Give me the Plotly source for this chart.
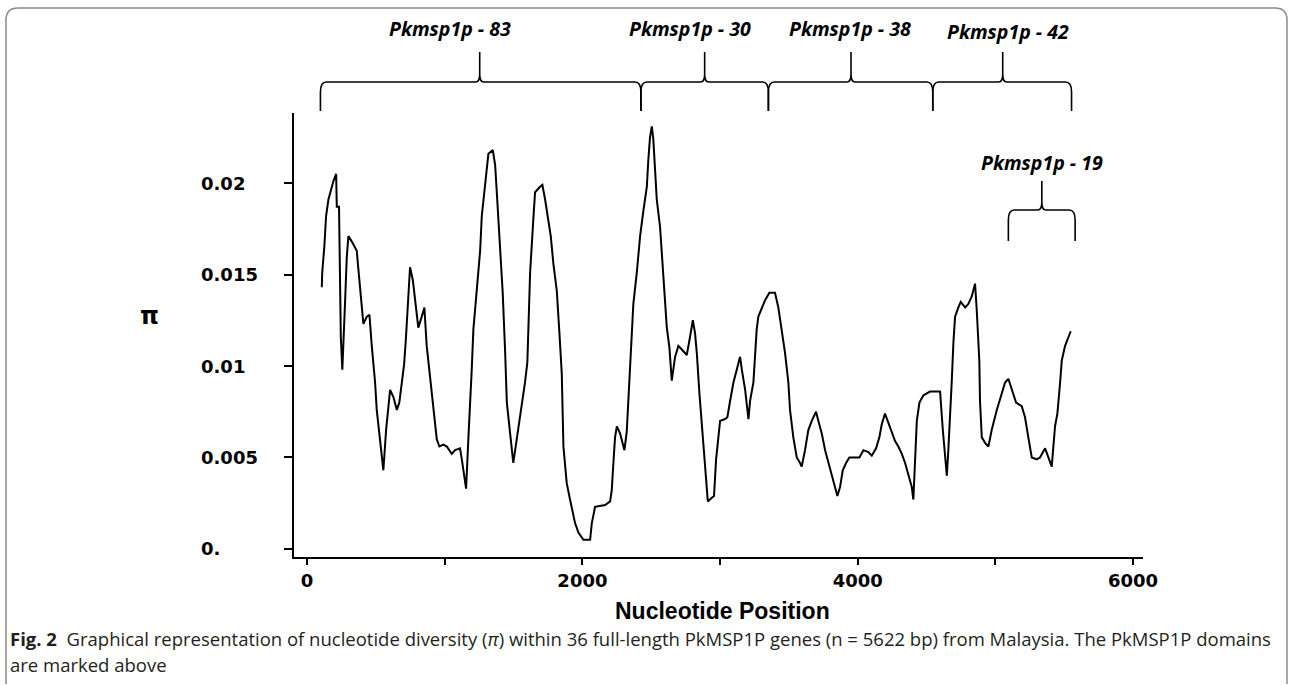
import plotly.graph_objects as go

# ---- data ----
positions = [107, 110, 126, 138, 155, 172, 191, 211, 216, 232, 240, 245, 256, 264, 276, 288, 300,
             325, 361, 370, 385, 397, 409, 434, 453, 470, 494, 506, 530, 554, 574, 591, 603, 627,
             652, 670, 688, 705, 717, 736, 748, 768, 784, 808, 833, 852, 869, 888, 906, 917, 942,
             961, 990, 1015, 1051, 1075, 1111, 1124, 1140, 1155, 1172, 1184, 1196, 1208, 1233,
             1257, 1269, 1286, 1305, 1317, 1349, 1366, 1378, 1390, 1402, 1421, 1438, 1451, 1475,
             1498, 1523, 1542, 1560, 1583, 1600, 1620, 1644, 1656, 1692, 1709, 1729, 1753, 1770,
             1789, 1814, 1833, 1850, 1862, 1886, 1910, 1930, 1947, 1971, 2007, 2056, 2068, 2092,
             2165, 2201, 2213, 2225, 2237, 2250, 2274, 2298, 2305, 2322, 2334, 2346, 2370, 2395,
             2419, 2443, 2468, 2479, 2491, 2504, 2515, 2528, 2540, 2564, 2588, 2613, 2632, 2649,
             2673, 2697, 2722, 2758, 2782, 2802, 2818, 2831, 2850, 2867, 2884, 2898, 2911, 2940,
             2956, 2971, 2988, 3000, 3036, 3053, 3073, 3097, 3121, 3145, 3158, 3182, 3206, 3218,
             3242, 3254, 3266, 3278, 3303, 3327, 3358, 3399, 3423, 3448, 3472, 3496, 3508, 3532,
             3557, 3581, 3593, 3617, 3641, 3666, 3697, 3714, 3739, 3763, 3787, 3811, 3835, 3852,
             3872, 3891, 3915, 3939, 3968, 4012, 4041, 4077, 4102, 4133, 4157, 4174, 4198, 4222,
             4247, 4271, 4295, 4320, 4344, 4368, 4392, 4404, 4416, 4429, 4448, 4477, 4525, 4598,
             4618, 4634, 4647, 4658, 4671, 4683, 4695, 4707, 4731, 4748, 4780, 4804, 4828, 4852,
             4864, 4883, 4888, 4901, 4925, 4949, 4973, 5010, 5046, 5070, 5094, 5119, 5150, 5191,
             5215, 5239, 5264, 5300, 5324, 5361, 5385, 5409, 5433, 5450, 5470, 5482, 5506, 5530,
             5547]

pi_values = [0.0143, 0.0151, 0.0166, 0.0182, 0.0191, 0.0196, 0.0201, 0.0205, 0.0187, 0.0187,
             0.0151, 0.0116, 0.0098, 0.0111, 0.0135, 0.0159, 0.0171, 0.0168, 0.0163, 0.0155,
             0.0142, 0.0131, 0.0123, 0.0127, 0.0128, 0.0111, 0.0091, 0.0076, 0.0058, 0.0043,
             0.0065, 0.0080, 0.0087, 0.0083, 0.0076, 0.0080, 0.0091, 0.0101, 0.0114, 0.0136,
             0.0154, 0.0147, 0.0136, 0.0121, 0.0127, 0.0132, 0.0111, 0.0098, 0.0085, 0.0076,
             0.0060, 0.0056, 0.0057, 0.0056, 0.0052, 0.0054, 0.0055, 0.0049, 0.0041, 0.0033,
             0.0061, 0.0078, 0.0098, 0.0120, 0.0140, 0.0163, 0.0182, 0.0195, 0.0209, 0.0216,
             0.0218, 0.0210, 0.0195, 0.0180, 0.0163, 0.0140, 0.0109, 0.0080, 0.0063, 0.0047,
             0.0060, 0.0069, 0.0080, 0.0091, 0.0102, 0.0151, 0.0181, 0.0195, 0.0198, 0.0199,
             0.0191, 0.0178, 0.0171, 0.0156, 0.0141, 0.0118, 0.0096, 0.0056, 0.0036, 0.0027,
             0.0020, 0.0014, 0.0009, 0.0005, 0.0005, 0.0014, 0.0023, 0.0024, 0.0026, 0.0032,
             0.0047, 0.0061, 0.0067, 0.0063, 0.0056, 0.0054, 0.0064, 0.0081, 0.0100, 0.0134,
             0.0151, 0.0171, 0.0185, 0.0198, 0.0213, 0.0225, 0.0231, 0.0224, 0.0207, 0.0191,
             0.0176, 0.0149, 0.0121, 0.0110, 0.0092, 0.0105, 0.0111, 0.0109, 0.0106, 0.0116,
             0.0125, 0.0118, 0.0107, 0.0085, 0.0067, 0.0050, 0.0036, 0.0026, 0.0028, 0.0029,
             0.0049, 0.0061, 0.0070, 0.0071, 0.0072, 0.0081, 0.0091, 0.0098, 0.0105, 0.0098,
             0.0087, 0.0071, 0.0081, 0.0091, 0.0105, 0.0120, 0.0127, 0.0132, 0.0136, 0.0140,
             0.0140, 0.0132, 0.0120, 0.0107, 0.0091, 0.0076, 0.0061, 0.0050, 0.0047, 0.0045,
             0.0054, 0.0065, 0.0070, 0.0075, 0.0070, 0.0063, 0.0054, 0.0047, 0.0041, 0.0034,
             0.0029, 0.0034, 0.0043, 0.0047, 0.0050, 0.0050, 0.0050, 0.0054, 0.0053, 0.0051,
             0.0055, 0.0061, 0.0068, 0.0074, 0.0069, 0.0063, 0.0059, 0.0056, 0.0052, 0.0047,
             0.0040, 0.0034, 0.0027, 0.0045, 0.0070, 0.0080, 0.0084, 0.0086, 0.0086, 0.0065,
             0.0049, 0.0040, 0.0054, 0.0072, 0.0092, 0.0113, 0.0127, 0.0132, 0.0135, 0.0132,
             0.0134, 0.0138, 0.0145, 0.0131, 0.0103, 0.0081, 0.0061, 0.0058, 0.0056, 0.0065,
             0.0076, 0.0085, 0.0091, 0.0093, 0.0087, 0.0080, 0.0078, 0.0072, 0.0061, 0.0050,
             0.0049, 0.0050, 0.0055, 0.0050, 0.0045, 0.0067, 0.0074, 0.0091, 0.0103, 0.0111,
             0.0116, 0.0119]

x_tick_values = [0, 1000, 2000, 3000, 4000, 5000, 6000]
x_tick_labels = ["0", "", "2000", "", "4000", "", "6000"]
y_tick_values = [0, 0.005, 0.01, 0.015, 0.02]
y_tick_labels = ["0.", "0.005", "0.01", "0.015", "0.02"]

domain_names = ["Pkmsp1p - 83", "Pkmsp1p - 30", "Pkmsp1p - 38", "Pkmsp1p - 42"]
domain_start = [97, 2425, 3351, 4545]
domain_end = [2425, 3351, 4545, 5553]
domain_peak = [1254, 2888, 3951, 5053]
domain_label_x = [1039, 2782, 3944, 5092]

sub_name = "Pkmsp1p - 19"
sub_start, sub_end, sub_peak, sub_label_x = 5094, 5579, 5337, 5339

caption_line1 = ("<b>Fig. 2</b>  Graphical representation of nucleotide diversity (<i>π</i>) within 36 "
                 "full-length PkMSP1P genes (n = 5622 bp) from Malaysia. The PkMSP1P domains")
caption_line2 = "are marked above"

# ---- layout geometry (pixels) ----
W, H = 1292, 685
L, R, T, B = 294, 1143, 113, 557
X_RANGE = [-95, 6072]
Y_RANGE = [-0.00044, 0.02383]
UNITS_PER_PX = (X_RANGE[1] - X_RANGE[0]) / (R - L)


def px(x):
    return (x - L) / (R - L)


def py(y):
    return (B - y) / (B - T)


fig = go.Figure()
fig.add_trace(go.Scatter(x=positions, y=pi_values, mode="lines",
                         line=dict(color="black", width=2), showlegend=False,
                         hoverinfo="skip"))

axis_font = dict(family="DejaVu Sans", size=18, color="black")

fig.update_layout(
    width=W, height=H,
    margin=dict(l=L, r=W - R, t=T, b=H - B),
    paper_bgcolor="white", plot_bgcolor="white",
    showlegend=False,
    xaxis=dict(range=X_RANGE, showgrid=False, zeroline=False, showline=True,
               linecolor="black", linewidth=2, ticks="outside", ticklen=6, tickwidth=2,
               tickcolor="black", tickvals=x_tick_values, ticktext=x_tick_labels,
               tickfont=dict(family="DejaVu Sans", size=18, color="black", weight="bold")),
    yaxis=dict(range=Y_RANGE, showgrid=False, zeroline=False, showline=True,
               linecolor="black", linewidth=2, ticks="outside", ticklen=8, tickwidth=2,
               tickcolor="black", tickvals=y_tick_values, showticklabels=False),
)

annotations = []
# y tick labels (left aligned, like the reference)
for v, t in zip(y_tick_values, y_tick_labels):
    annotations.append(dict(x=px(199), y=v, xref="paper", yref="y", text="<b>%s</b>" % t,
                            showarrow=False, xanchor="left", yanchor="middle",
                            font=axis_font))
# y axis title
annotations.append(dict(x=px(149), y=py(316), xref="paper", yref="paper", text="<b>π</b>",
                        showarrow=False, xanchor="center", yanchor="middle",
                        font=dict(family="DejaVu Sans", size=24, color="black")))
# x axis title
annotations.append(dict(x=px(722), y=py(611), xref="paper", yref="paper",
                        text="<b>Nucleotide Position</b>", showarrow=False,
                        xanchor="center", yanchor="middle",
                        font=dict(family="Liberation Sans", size=23, color="black")))

label_font = dict(family="Open Sans", size=19.5, color="black")
label_y_px = [28, 28, 29, 32]
for name, lx, ly in zip(domain_names, domain_label_x, label_y_px):
    annotations.append(dict(x=lx, y=py(ly), xref="x", yref="paper",
                            text="<b><i>%s</i></b>" % name, showarrow=False,
                            xanchor="center", yanchor="middle", font=label_font))
annotations.append(dict(x=sub_label_x, y=py(162), xref="x", yref="paper",
                        text="<b><i>%s</i></b>" % sub_name, showarrow=False,
                        xanchor="center", yanchor="middle", font=label_font))

cap_font = dict(family="Open Sans", size=18.5, color="#231f20")
annotations.append(dict(x=px(8), y=py(638), xref="paper", yref="paper", text=caption_line1,
                        showarrow=False, xanchor="left", yanchor="middle", align="left",
                        font=cap_font))
annotations.append(dict(x=px(8), y=py(664), xref="paper", yref="paper", text=caption_line2,
                        showarrow=False, xanchor="left", yanchor="middle", align="left",
                        font=cap_font))
fig.update_layout(annotations=annotations)


def brace_path(x0, x1, xm, y_bot, y_h, y_peak):
    dx = 6 * UNITS_PER_PX
    dp = 4 * UNITS_PER_PX
    yb, ymid, yh = py(y_bot), py(y_h + 10), py(y_h)
    ybend, ypk = py(y_h - 8), py(y_peak)
    return (f"M {x0},{yb} L {x0},{ymid} Q {x0},{yh} {x0 + dx},{yh} "
            f"L {xm - dp},{yh} Q {xm},{yh} {xm},{ybend} L {xm},{ypk} "
            f"M {xm},{ybend} Q {xm},{yh} {xm + dp},{yh} "
            f"L {x1 - dx},{yh} Q {x1},{yh} {x1},{ymid} L {x1},{yb}")


shapes = []
for s, e, m in zip(domain_start, domain_end, domain_peak):
    shapes.append(dict(type="path", xref="x", yref="paper",
                       path=brace_path(s, e, m, 111, 82, 52),
                       line=dict(color="black", width=1.6)))
shapes.append(dict(type="path", xref="x", yref="paper",
                   path=brace_path(sub_start, sub_end, sub_peak, 241, 210, 181),
                   line=dict(color="black", width=1.6)))

# rounded outer frame
fl, fr, ft, fb, rr = 6, 1287, 8, 684, 12
frame = (f"M {px(fl)},{py(fb)} L {px(fl)},{py(ft + rr)} Q {px(fl)},{py(ft)} {px(fl + rr)},{py(ft)} "
         f"L {px(fr - rr)},{py(ft)} Q {px(fr)},{py(ft)} {px(fr)},{py(ft + rr)} L {px(fr)},{py(fb)}")
shapes.append(dict(type="path", xref="paper", yref="paper", path=frame,
                   line=dict(color="#8a8a8a", width=1.5)))
fig.update_layout(shapes=shapes)

fig.write_html("out.html", config={"displayModeBar": False},
               post_script="document.body.style.margin='0px';document.body.style.overflow='hidden';")
